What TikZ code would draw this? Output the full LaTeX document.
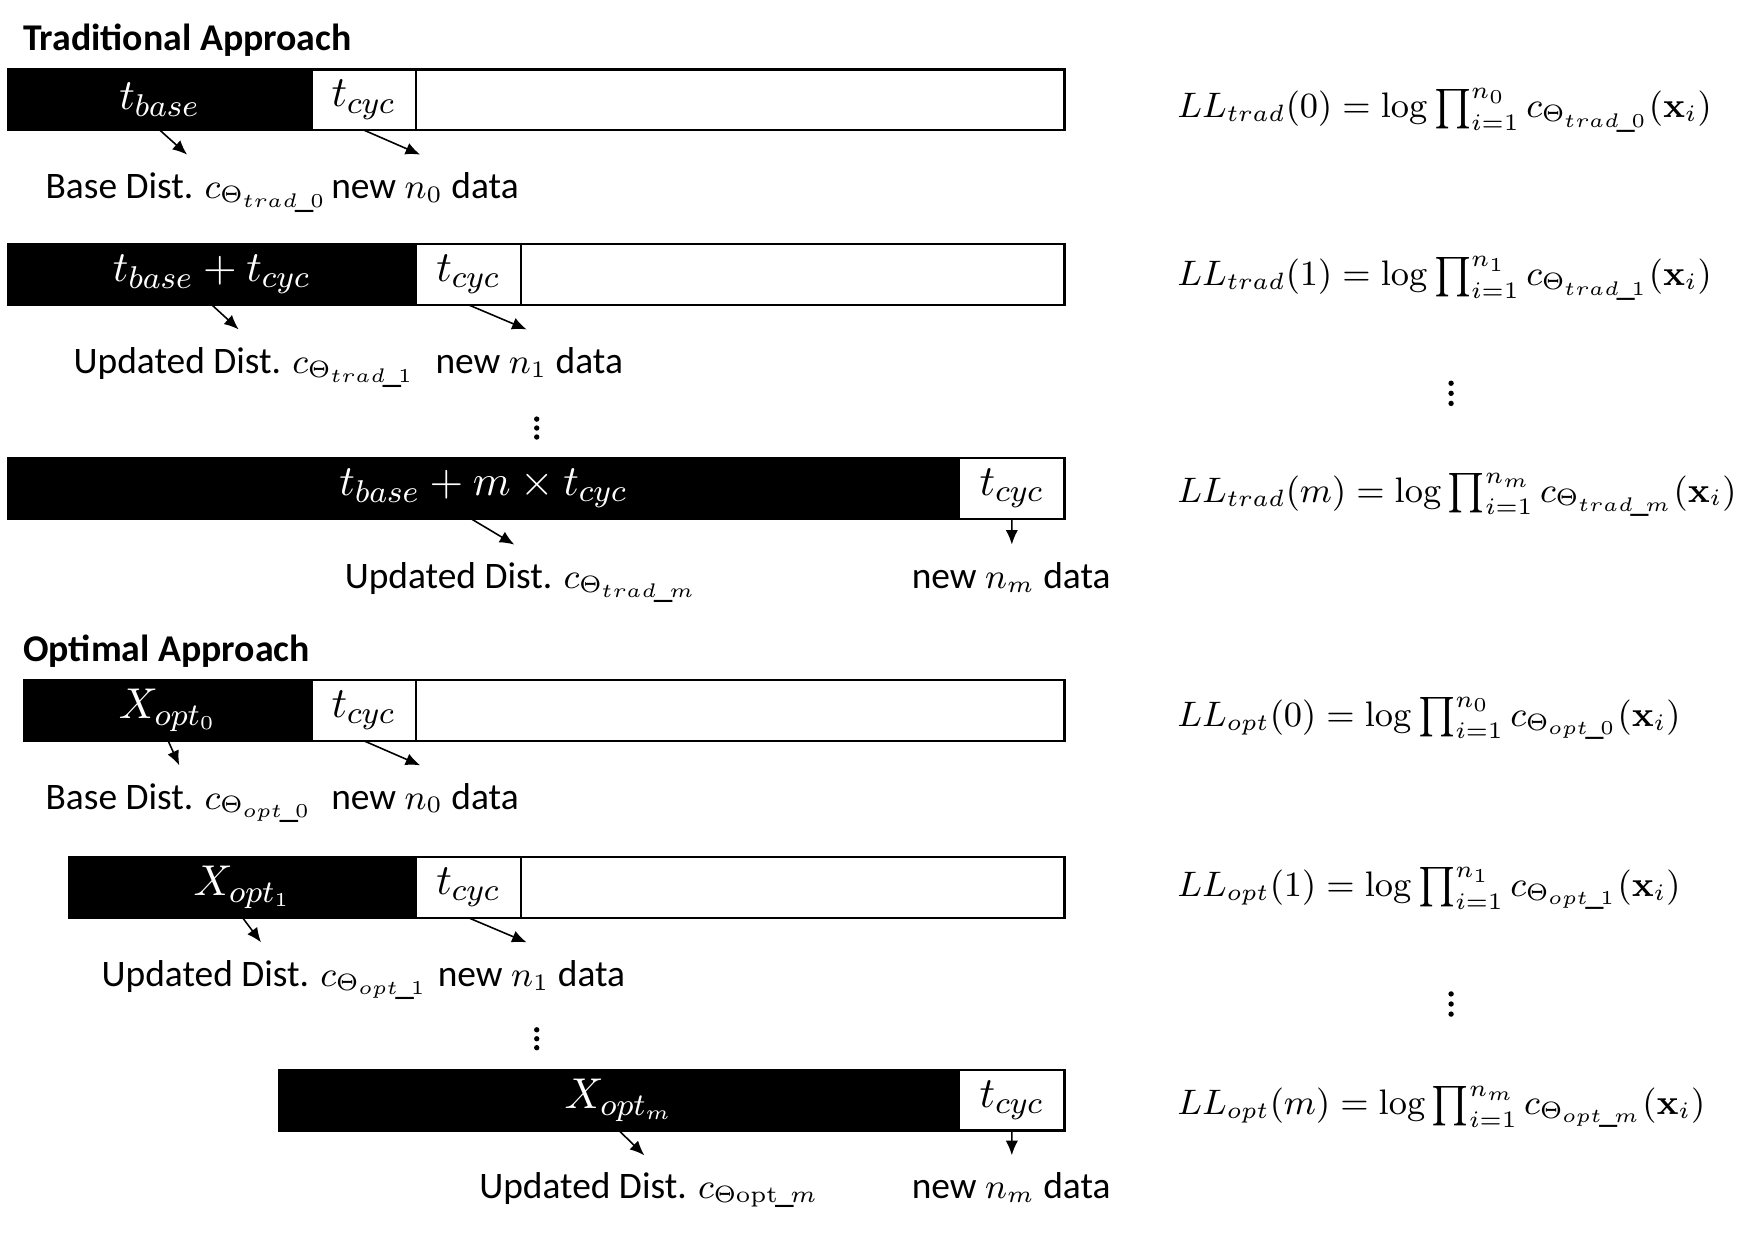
\documentclass[tikz,border=0pt]{standalone}
\usepackage[no-math]{fontspec}
\setmainfont{Carlito}
\usetikzlibrary{arrows.meta}
\DeclareMathSizes{9.5}{9.5}{6.4}{4.3}
\DeclareMathSizes{9.3}{9.3}{6.5}{4.5}
\newcommand{\us}{\mkern-1.5mu\_\mkern-2mu}

\tikzset{
	blk/.style={fill=black, draw=black, text=white, minimum height=0.54cm, inner sep=0pt, outer sep=0pt, anchor=north west, font=\fontsize{11}{13}\selectfont, line width=0.6pt},
	cell/.style={fill=white, draw=black, minimum height=0.54cm, inner sep=0pt, outer sep=0pt, anchor=north west, font=\fontsize{11}{13}\selectfont, line width=0.6pt},
	lbl/.style={anchor=base west, inner sep=0pt},
	eqn/.style={anchor=base west, inner sep=0pt, font=\fontsize{9.3}{11}\selectfont},
	ttl/.style={anchor=base west, inner sep=0pt, font=\fontsize{9.6}{12}\selectfont\bfseries},
	arr/.style={-{Latex[length=1.3mm,width=1.1mm]}, line width=0.4pt},
	vdot/.style={fill=black}
}

\begin{document}
\begin{tikzpicture}[font=\fontsize{9.5}{11}\selectfont]
	\useasboundingbox (0,0) rectangle (15.6,-11.05);
	
	% traditional approach
	\node[ttl] (ttrad) at (0.20,-0.45) {Traditional Approach};
	
	\node[blk, minimum width=2.71cm] (tb0) at (0.07,-0.62) {$t_{base}$};
	\node[cell, minimum width=0.93cm] (tc0) at (tb0.north east) {$t_{cyc}$};
	\node[cell, minimum width=5.79cm] (tr0) at (tc0.north east) {};
	\node[lbl] (td0) at (0.40,-1.77) {Base Dist. $c_{\Theta_{trad\us0}}$};
	\node[lbl] (tn0) at (2.95,-1.77) {new $n_0$ data};
	\draw[arr] (tb0.south) -- ([xshift=1.27cm,yshift=0.39cm]td0.base west);
	\draw[arr] (tc0.south) -- ([xshift=0.80cm,yshift=0.39cm]tn0.base west);
	
	\node[blk, minimum width=3.64cm] (tb1) at (0.07,-2.18) {$t_{base}+t_{cyc}$};
	\node[cell, minimum width=0.94cm] (tc1) at (tb1.north east) {$t_{cyc}$};
	\node[cell, minimum width=4.85cm] (tr1) at (tc1.north east) {};
	\node[lbl] (td1) at (0.65,-3.33) {Updated Dist. $c_{\Theta_{trad\us1}}$};
	\node[lbl] (tn1) at (3.88,-3.33) {new $n_1$ data};
	\draw[arr] (tb1.south) -- ([xshift=1.48cm,yshift=0.39cm]td1.base west);
	\draw[arr] (tc1.south) -- ([xshift=0.82cm,yshift=0.39cm]tn1.base west);
	
	\foreach \y in {-3.74,-3.82,-3.90} \fill[vdot] (4.79,\y) circle (0.024);
	
	\node[blk, minimum width=8.49cm] (tb2) at (0.07,-4.09) {$t_{base}+m\times t_{cyc}$};
	\node[cell, minimum width=0.94cm] (tc2) at (tb2.north east) {$t_{cyc}$};
	\node[lbl] (td2) at (3.07,-5.25) {Updated Dist. $c_{\Theta_{trad\us m}}$};
	\node[lbl] (tn2) at (8.13,-5.25) {new $n_m$ data};
	\draw[arr] ([xshift=-0.11cm]tb2.south) -- ([xshift=1.52cm,yshift=0.39cm]td2.base west);
	\draw[arr] (tc2.south) -- ([xshift=0.90cm,yshift=0.39cm]tn2.base west);
	
	% optimal approach
	\node[ttl] (topt) at (0.20,-5.90) {Optimal Approach};
	
	\node[blk, minimum width=2.56cm] (ob0) at (0.22,-6.07) {$X_{opt_0}$};
	\node[cell, minimum width=0.93cm] (oc0) at (ob0.north east) {$t_{cyc}$};
	\node[cell, minimum width=5.79cm] (or0) at (oc0.north east) {};
	\node[lbl] (od0) at (0.40,-7.22) {Base Dist. $c_{\Theta_{opt\us0}}$};
	\node[lbl] (on0) at (2.95,-7.22) {new $n_0$ data};
	\draw[arr] (ob0.south) -- ([xshift=1.20cm,yshift=0.39cm]od0.base west);
	\draw[arr] (oc0.south) -- ([xshift=0.80cm,yshift=0.39cm]on0.base west);
	
	\node[blk, minimum width=3.09cm] (ob1) at (0.62,-7.65) {$X_{opt_1}$};
	\node[cell, minimum width=0.94cm] (oc1) at (ob1.north east) {$t_{cyc}$};
	\node[cell, minimum width=4.85cm] (or1) at (oc1.north east) {};
	\node[lbl] (od1) at (0.90,-8.80) {Updated Dist. $c_{\Theta_{opt\us1}}$};
	\node[lbl] (on1) at (3.90,-8.80) {new $n_1$ data};
	\draw[arr] (ob1.south) -- ([xshift=1.43cm,yshift=0.39cm]od1.base west);
	\draw[arr] (oc1.south) -- ([xshift=0.80cm,yshift=0.39cm]on1.base west);
	
	\foreach \y in {-9.19,-9.27,-9.35} \fill[vdot] (4.79,\y) circle (0.024);
	
	\node[blk, minimum width=6.07cm] (ob2) at (2.49,-9.55) {$X_{opt_m}$};
	\node[cell, minimum width=0.94cm] (oc2) at (ob2.north east) {$t_{cyc}$};
	\node[lbl] (od2) at (4.27,-10.70) {Updated Dist. $c_{\Theta\mathrm{opt\us}m}$};
	\node[lbl] (on2) at (8.13,-10.70) {new $n_m$ data};
	\draw[arr] (ob2.south) -- ([xshift=1.48cm,yshift=0.39cm]od2.base west);
	\draw[arr] (oc2.south) -- ([xshift=0.90cm,yshift=0.39cm]on2.base west);
	
	% log-likelihoods
	\node[eqn] (et0) at (10.50,-1.05) {$LL_{trad}(0) = \log\prod_{i=1}^{n_0} c_{\Theta_{trad\us0}}(\mathbf{x}_i)$};
	\node[eqn] (et1) at (10.50,-2.55) {$LL_{trad}(1) = \log\prod_{i=1}^{n_1} c_{\Theta_{trad\us1}}(\mathbf{x}_i)$};
	\foreach \y in {-3.42,-3.51,-3.60} \fill[vdot] (12.95,\y) circle (0.024);
	\node[eqn] (et2) at (10.50,-4.48) {$LL_{trad}(m) = \log\prod_{i=1}^{n_m} c_{\Theta_{trad\us m}}(\mathbf{x}_i)$};
	\node[eqn] (eo0) at (10.50,-6.48) {$LL_{opt}(0) = \log\prod_{i=1}^{n_0} c_{\Theta_{opt\us0}}(\mathbf{x}_i)$};
	\node[eqn] (eo1) at (10.50,-8.00) {$LL_{opt}(1) = \log\prod_{i=1}^{n_1} c_{\Theta_{opt\us1}}(\mathbf{x}_i)$};
	\foreach \y in {-8.87,-8.96,-9.05} \fill[vdot] (12.95,\y) circle (0.024);
	\node[eqn] (eo2) at (10.50,-9.95) {$LL_{opt}(m) = \log\prod_{i=1}^{n_m} c_{\Theta_{opt\us m}}(\mathbf{x}_i)$};
\end{tikzpicture}
\end{document}
